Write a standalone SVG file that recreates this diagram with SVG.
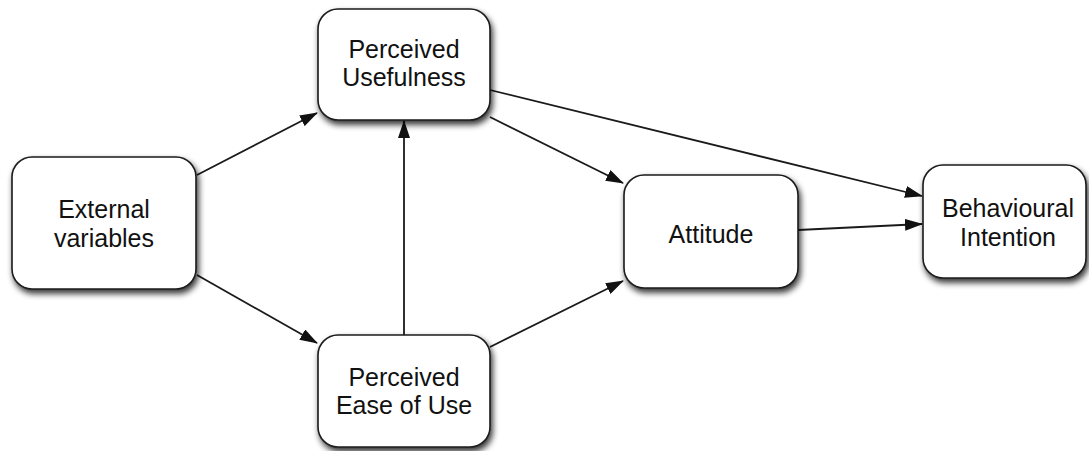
<svg xmlns="http://www.w3.org/2000/svg" width="1089" height="451" viewBox="0 0 1089 451">
  <style>
    .box { fill: #ffffff; stroke: #1a1a1a; stroke-width: 1.6; filter: url(#shadow); }
    .label { font-family: "Liberation Sans", Arial, sans-serif; font-size: 25px; fill: #111111; text-anchor: middle; }
    .edge { stroke: #1a1a1a; stroke-width: 1.8; fill: none; marker-end: url(#arrow); }
  </style>
  <defs>
    <filter id="shadow" x="-20%" y="-20%" width="140%" height="150%">
      <feGaussianBlur in="SourceAlpha" stdDeviation="3"/>
      <feOffset dx="2" dy="4" result="blur"/>
      <feComponentTransfer><feFuncA type="linear" slope="0.8"/></feComponentTransfer>
      <feMerge><feMergeNode/><feMergeNode in="SourceGraphic"/></feMerge>
    </filter>
    <marker id="arrow" markerWidth="18" markerHeight="12" refX="17" refY="6" orient="auto" markerUnits="userSpaceOnUse">
      <path d="M0,0 L18,6 L0,12 Z" fill="#111111"/>
    </marker>
  </defs>
  <rect width="1089" height="451" fill="#ffffff"/>

  <g id="connectors">
    <line class="edge" x1="197" y1="175" x2="317" y2="113"/>
    <line class="edge" x1="197" y1="275" x2="317" y2="343"/>
    <line class="edge" x1="404" y1="335" x2="404" y2="121"/>
    <line class="edge" x1="490" y1="117" x2="623" y2="183"/>
    <line class="edge" x1="490" y1="347" x2="623" y2="281"/>
    <line class="edge" x1="490" y1="90" x2="922" y2="196"/>
    <line class="edge" x1="798" y1="230" x2="922" y2="224"/>
  </g>

  <g id="external-variables">
    <rect class="box" x="12" y="157" width="184" height="132" rx="20"/>
    <text class="label" x="104" y="218">External</text>
    <text class="label" x="104" y="247">variables</text>
  </g>

  <g id="perceived-usefulness">
    <rect class="box" x="318" y="9" width="172" height="111" rx="20"/>
    <text class="label" x="404" y="58">Perceived</text>
    <text class="label" x="404" y="86">Usefulness</text>
  </g>

  <g id="perceived-ease-of-use">
    <rect class="box" x="318" y="335" width="172" height="112" rx="20"/>
    <text class="label" x="404" y="386">Perceived</text>
    <text class="label" x="404" y="414">Ease of Use</text>
  </g>

  <g id="attitude">
    <rect class="box" x="624" y="175" width="174" height="113" rx="20"/>
    <text class="label" x="711" y="243">Attitude</text>
  </g>

  <g id="behavioural-intention">
    <rect class="box" x="923" y="165" width="163" height="113" rx="20"/>
    <text class="label" x="1008" y="217">Behavioural</text>
    <text class="label" x="1008" y="246">Intention</text>
  </g>
</svg>
